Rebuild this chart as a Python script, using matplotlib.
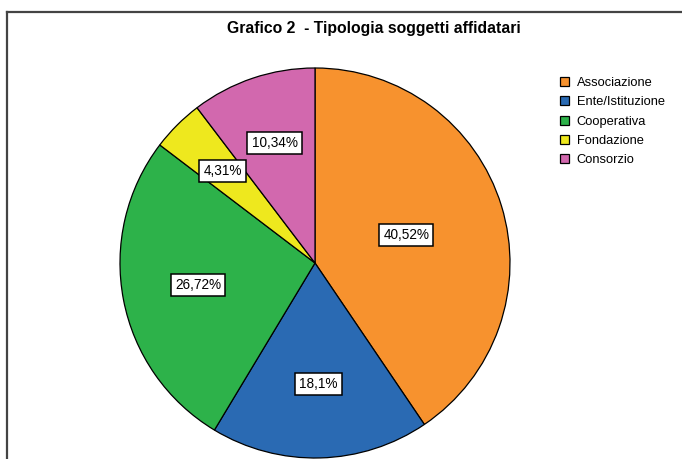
#!/usr/bin/env python3
import numpy as np
import matplotlib
matplotlib.use("Agg")
import matplotlib.pyplot as plt
from matplotlib.lines import Line2D
from matplotlib.patches import Rectangle

plt.rcParams['font.family'] = ['Liberation Sans', 'DejaVu Sans']

# -------------------------------------------------------------
#                   DATA
# -------------------------------------------------------------
TITLE = "Grafico 2  - Tipologia soggetti affidatari"
categories = ["Associazione", "Ente/Istituzione", "Cooperativa", "Fondazione", "Consorzio"]
shares = [40.52, 18.1, 26.72, 4.31, 10.34]
share_labels = ["40,52%", "18,1%", "26,72%", "4,31%", "10,34%"]
colors = ["#F7922E", "#2A6AB3", "#2DB24A", "#EEE81E", "#D268AE"]
label_radius = [0.49, 0.62, 0.61, 0.67, 0.65]

W, H = 682, 459
fig = plt.figure(figsize=(W / 100, H / 100), dpi=100)

# outer frame (top + left edge, runs off the page)
frame_kw = dict(color="#444444", lw=1.6, transform=fig.transFigure)
fig.add_artist(Line2D([7 / W, 1.0], [1 - 12 / H, 1 - 12 / H], **frame_kw))
fig.add_artist(Line2D([7 / W, 7 / W], [0.0, 1 - 12 / H], **frame_kw))

fig.text(374 / W, 1 - 29 / H, TITLE, ha="center", va="center",
         fontsize=11.3, fontweight="bold")

# -------------------------------------------------------------
#                   PIE
# -------------------------------------------------------------
cx, cy, r = 315, 263, 195
ax = fig.add_axes([(cx - r) / W, (H - cy - r) / H, 2 * r / W, 2 * r / H])
wedges, _ = ax.pie(shares, colors=colors, startangle=90, counterclock=False,
                   radius=1.0, wedgeprops=dict(edgecolor="black", linewidth=0.9))
ax.set_xlim(-1, 1)
ax.set_ylim(-1, 1)
ax.set_aspect("equal")
ax.axis("off")

for w, lab, d in zip(wedges, share_labels, label_radius):
    mid = np.deg2rad((w.theta1 + w.theta2) / 2)
    ax.text(d * np.cos(mid), d * np.sin(mid), lab, ha="center", va="center",
            fontsize=9.8,
            bbox=dict(boxstyle="square,pad=0.3", fc="white", ec="black", lw=1.1))

# -------------------------------------------------------------
#                   LEGEND
# -------------------------------------------------------------
handles = [Rectangle((0, 0), 1, 1, fc=c, ec="black", lw=0.9) for c in colors]
fig.legend(handles, categories, loc="upper left",
           bbox_to_anchor=(560 / W, 1 - 77 / H), frameon=False,
           fontsize=9.3, handlelength=0.7, handleheight=0.7,
           handletextpad=0.6, labelspacing=0.56, borderaxespad=0,
           borderpad=0)

fig.savefig("out.png", dpi=100)
